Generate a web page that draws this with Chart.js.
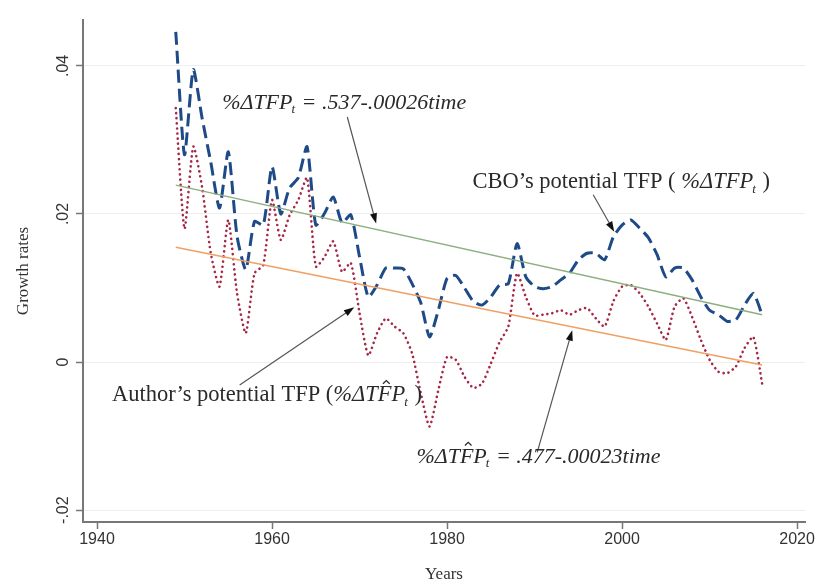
<!DOCTYPE html>
<html>
<head>
<meta charset="utf-8">
<script src="https://cdn.jsdelivr.net/npm/chart.js@4.4.1/dist/chart.umd.min.js"></script>
<style>
  html, body { margin: 0; padding: 0; background: #fff; }
  #wrap { width: 819px; height: 583px; }
</style>
</head>
<body>
<div id="wrap"><canvas id="myChart" width="819" height="583"></canvas></div>
<script>
const years = [1949,1950,1951,1952,1953,1954,1955,1956,1957,1958,1959,1960,1961,1962,1963,1964,1965,1966,1967,1968,
  1969,1970,1971,1972,1973,1974,1975,1976,1977,1978,1979,1980,1981,1982,1983,1984,1985,1986,1987,1988,
  1989,1990,1991,1992,1993,1994,1995,1996,1997,1998,1999,2000,2001,2002,2003,2004,2005,2006,2007,2008,
  2009,2010,2011,2012,2013,2014,2015,2016];

// CBO's potential TFP growth (dashed blue)
const cboTFP = [0.0446,0.028,0.0395,0.033,0.027,0.0208,0.0284,0.017,0.0125,0.019,0.0185,0.0264,0.020,0.0235,0.0249,0.0291,0.0185,0.0201,0.0223,0.0188,
  0.0199,0.0142,0.0088,0.0104,0.0127,0.0127,0.0126,0.0106,0.008,0.0034,0.007,0.0113,0.0117,0.010,0.0082,0.0077,0.0088,0.0104,0.0106,0.016,
  0.0115,0.0102,0.0099,0.0102,0.0111,0.012,0.0138,0.0147,0.0147,0.0138,0.0169,0.0185,0.0192,0.0181,0.0168,0.0145,0.0115,0.0127,0.0127,0.0111,
  0.0088,0.007,0.0064,0.0055,0.0057,0.0077,0.0093,0.0064];

// Author's potential TFP growth (dotted red)
const authorTFP = [0.0343,0.018,0.0291,0.0237,0.0147,0.0102,0.0192,0.0093,0.0039,0.012,0.0131,0.0219,0.0165,0.0198,0.0219,0.0249,0.0129,0.0142,0.0163,0.0122,
  0.0134,0.0066,0.0009,0.0039,0.0059,0.0048,0.0039,0.0012,-0.0042,-0.0087,-0.0038,0.0007,0.0003,-0.002,-0.0035,-0.0029,-0.0002,0.0027,0.0048,0.012,
  0.0088,0.0063,0.0064,0.0066,0.007,0.0064,0.007,0.0073,0.0059,0.0048,0.0082,0.0102,0.0104,0.0093,0.0075,0.0052,0.003,0.0075,0.0086,0.0061,
  0.003,0.0003,-0.0013,-0.0015,-0.0006,0.0019,0.0034,-0.0029];

// fitted trend lines, end points
const trendYears = [1949, 2016];
const cboTrend = [0.0239, 0.0064];
const authorTrend = [0.0155, -0.0004];

const xTicks = [1940, 1960, 1980, 2000, 2020];
const yTicks = [-0.02, 0, 0.02, 0.04];

function pts(xs, ys) {
  return xs.map((x, i) => ({x: x, y: ys[i]}));
}

function fmtY(v) {
  if (v === 0) return '0';
  return (v < 0 ? '-' : '') + Math.abs(v).toFixed(2).replace(/^0/, '');
}

// text labels placed in data coordinates
const labels = [
  {x: 1954.3, y: 0.0350, size: 22, parts: [['%ΔTFP', 'i'], ['t', 'sub'], [' = .537-.00026', 'i'], ['time', 'i']]},
  {x: 1982.9, y: 0.0243, size: 22.5, parts: [['CBO’s potential TFP ( ', 'r'], ['%ΔTFP', 'i'], ['t', 'sub'], [' )', 'r']]},
  {x: 1941.7, y: -0.0045, size: 22.5, parts: [['Author’s potential TFP (', 'r'], ['%ΔT', 'i'], ['F', 'hat'], ['P', 'i'], ['t', 'sub'], [' )', 'r']]},
  {x: 1976.5, y: -0.0128, size: 22, parts: [['%ΔT', 'i'], ['F', 'hat'], ['P', 'i'], ['t', 'sub'], [' = .477-.00023', 'i'], ['time', 'i']]}
];
const arrows = [
  {from: [1968.6, 0.0331], to: [1971.9, 0.0187]},
  {from: [1996.7, 0.0226], to: [1999.1, 0.0176]},
  {from: [1956.3, -0.0031], to: [1969.4, 0.0074]},
  {from: [1990.3, -0.0122], to: [1994.3, 0.0043]}
];

function drawRich(ctx, x, y, parts, size) {
  let cx = x;
  ctx.textBaseline = 'middle';
  ctx.textAlign = 'left';
  parts.forEach(([t, kind]) => {
    if (kind === 'sub') {
      ctx.font = 'italic ' + Math.round(size * 0.58) + 'px "Liberation Serif"';
      ctx.fillText(t, cx - 1, y + size * 0.32);
      cx += ctx.measureText(t).width;
    } else if (kind === 'hat') {
      ctx.font = 'italic ' + size + 'px "Liberation Serif"';
      const w = ctx.measureText(t).width;
      ctx.fillText(t, cx, y);
      // small circumflex over the letter
      const hx = cx + w * 0.62, hy = y - size * 0.62;
      ctx.save();
      ctx.strokeStyle = ctx.fillStyle;
      ctx.lineWidth = 1.3;
      ctx.beginPath();
      ctx.moveTo(hx - size * 0.15, hy + size * 0.1);
      ctx.lineTo(hx, hy - size * 0.04);
      ctx.lineTo(hx + size * 0.15, hy + size * 0.1);
      ctx.stroke();
      ctx.restore();
      cx += w;
    } else {
      ctx.font = (kind === 'i' ? 'italic ' : '') + size + 'px "Liberation Serif"';
      ctx.fillText(t, cx, y);
      cx += ctx.measureText(t).width;
    }
  });
}

const notesPlugin = {
  id: 'notes',
  afterDatasetsDraw(chart) {
    const ctx = chart.ctx;
    const xs = chart.scales.x, ys = chart.scales.y;
    ctx.save();
    // y tick labels, rotated like the original
    ctx.fillStyle = '#333';
    ctx.font = '16px "Liberation Sans"';
    ctx.textAlign = 'center';
    ctx.textBaseline = 'middle';
    yTicks.forEach(v => {
      ctx.save();
      ctx.translate(64, ys.getPixelForValue(v));
      ctx.rotate(-Math.PI / 2);
      ctx.fillText(fmtY(v), 0, 0);
      ctx.restore();
    });
    // arrows
    arrows.forEach(a => {
      const x1 = xs.getPixelForValue(a.from[0]), y1 = ys.getPixelForValue(a.from[1]);
      const x2 = xs.getPixelForValue(a.to[0]), y2 = ys.getPixelForValue(a.to[1]);
      const ang = Math.atan2(y2 - y1, x2 - x1);
      ctx.strokeStyle = '#555';
      ctx.lineWidth = 1.2;
      ctx.beginPath();
      ctx.moveTo(x1, y1);
      ctx.lineTo(x2 - 8 * Math.cos(ang), y2 - 8 * Math.sin(ang));
      ctx.stroke();
      ctx.fillStyle = '#111';
      ctx.beginPath();
      ctx.moveTo(x2, y2);
      ctx.lineTo(x2 - 11 * Math.cos(ang - 0.33), y2 - 11 * Math.sin(ang - 0.33));
      ctx.lineTo(x2 - 11 * Math.cos(ang + 0.33), y2 - 11 * Math.sin(ang + 0.33));
      ctx.closePath();
      ctx.fill();
    });
    // text
    ctx.fillStyle = '#2a2a2a';
    labels.forEach(l => {
      drawRich(ctx, xs.getPixelForValue(l.x), ys.getPixelForValue(l.y), l.parts, l.size);
    });
    ctx.restore();
  }
};

const chart = document.getElementById('myChart');

const data = {
  datasets: [
    {
      label: 'CBO trend',
      data: pts(trendYears, cboTrend),
      borderColor: 'rgb(140, 175, 125)',
      borderWidth: 1.5,
      pointRadius: 0
    },
    {
      label: 'Author trend',
      data: pts(trendYears, authorTrend),
      borderColor: 'rgb(240, 160, 100)',
      borderWidth: 1.5,
      pointRadius: 0
    },
    {
      label: 'Author potential TFP',
      data: pts(years, authorTFP),
      borderColor: 'rgb(165, 40, 70)',
      borderWidth: 2.6,
      borderDash: [0.1, 5],
      borderCapStyle: 'round',
      pointRadius: 0,
      tension: 0.2
    },
    {
      label: 'CBO potential TFP',
      data: pts(years, cboTFP),
      borderColor: 'rgb(30, 75, 135)',
      borderWidth: 3,
      borderDash: [13, 6],
      pointRadius: 0,
      tension: 0.2
    }
  ]
};

const config = {
  type: 'line',
  data: data,
  options: {
    responsive: false,
    animation: false,
    layout: { padding: { top: 20, right: 14, left: 0, bottom: 0 } },
    plugins: {
      legend: { display: false },
      tooltip: { enabled: false }
    },
    scales: {
      x: {
        type: 'linear',
        min: 1938.4,
        max: 2020.9,
        afterBuildTicks: s => { s.ticks = xTicks.map(v => ({value: v})); },
        afterFit: s => { s.height = 61; },
        grid: { drawOnChartArea: false, drawTicks: true, tickLength: 7, tickColor: '#777', tickWidth: 1.5 },
        border: { display: true, color: '#777', width: 2 },
        ticks: {
          color: '#333',
          font: { family: '"Liberation Sans"', size: 16 },
          padding: 1,
          maxRotation: 0,
          callback: v => String(v)
        },
        title: {
          display: true,
          text: 'Years',
          color: '#333',
          font: { family: '"Liberation Serif"', size: 17 },
          padding: { top: 0, bottom: -2 }
        }
      },
      y: {
        min: -0.0216,
        max: 0.0462,
        afterBuildTicks: s => { s.ticks = yTicks.map(v => ({value: v})); },
        afterFit: s => { s.width = 83; },
        grid: { color: '#eeeeee', lineWidth: 1, drawTicks: true, tickLength: 7, tickColor: '#777', tickWidth: 1.5 },
        border: { display: true, color: '#777', width: 2 },
        ticks: {
          color: 'rgba(0,0,0,0)',
          font: { family: '"Liberation Sans"', size: 16 },
          callback: v => fmtY(v)
        },
        title: {
          display: true,
          text: 'Growth rates',
          color: '#333',
          font: { family: '"Liberation Serif"', size: 17 },
          padding: { top: 13, bottom: 0 }
        }
      }
    }
  },
  plugins: [notesPlugin]
};

const myChart = new Chart(chart, config);
</script>
</body>
</html>
